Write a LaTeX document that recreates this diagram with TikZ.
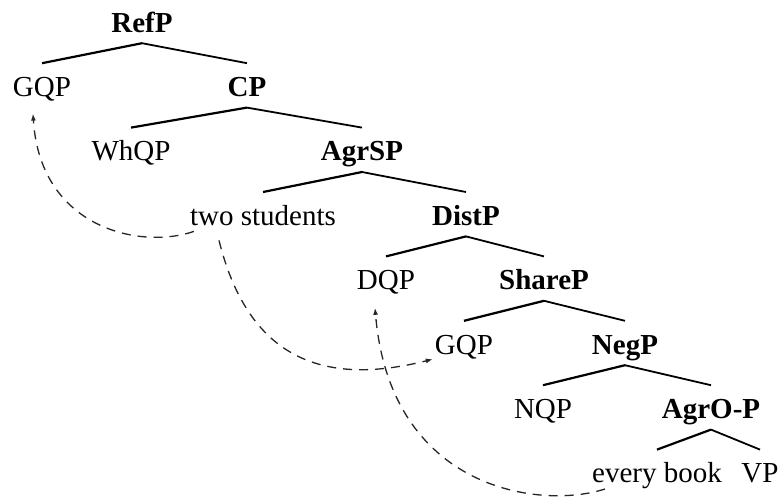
\documentclass[tikz,border=0pt]{standalone}
\usepackage{fontspec}
\setmainfont{Liberation Serif}
\usetikzlibrary{arrows.meta,calc}
\begin{document}
\begin{tikzpicture}[x=1pt,y=-1pt,
  lbl/.style={anchor=base,inner sep=0pt,text height=33pt,text depth=11pt,
    font=\fontsize{29}{34}\selectfont},
  phrase/.style={lbl,font=\fontsize{29}{34}\selectfont\bfseries},
  lbranch/.style={line width=2.2pt},
  rbranch/.style={line width=1.8pt},
  move/.style={dashed,dash pattern=on 9pt off 7pt,line width=1.3pt,black!85,
    -{Latex[length=7pt,width=5pt]}}]
\useasboundingbox (0,0) rectangle (781,501);

% tree labels, one row per level
\node[phrase] (refp)  at (142,32)    {RefP};
\node[lbl]    (gqpa)  at (42,96.4)   {GQP};
\node[phrase] (cp)    at (247,96.4)  {CP};
\node[lbl]    (whqp)  at (131,160.8) {WhQP};
\node[phrase] (agrsp) at (362,160.8) {AgrSP};
\node[lbl]    (ts)    at (263,225.2) {two students};
\node[phrase] (distp) at (466,225.2) {DistP};
\node[lbl]    (dqp)   at (386,289.6) {DQP};
\node[phrase] (sharep) at (544,289.6) {ShareP};
\node[lbl]    (gqpb)  at (464,354)   {GQP};
\node[phrase] (negp)  at (625,354)   {NegP};
\node[lbl]    (nqp)   at (543,418.4) {NQP};
\node[phrase] (agrop) at (711,418.4) {AgrO-P};
\node[lbl]    (eb)    at (657,482.8) {every book};
\node[lbl]    (vp)    at (760,482.8) {VP};

% branches
\foreach \p/\l/\r in {refp/gqpa/cp, cp/whqp/agrsp, agrsp/ts/distp,
                      distp/dqp/sharep, sharep/gqpb/negp, negp/nqp/agrop,
                      agrop/eb/vp}{
  \draw[lbranch] (\p.south) -- (\l.north);
  \draw[rbranch] (\p.south) -- (\r.north);
}

% movement arrows
\draw[move] ($(ts.south west)+(4,-5)$) .. controls (140,250) and (40,228) .. ($(gqpa.south)+(-9,6)$);
\draw[move] ($(ts.south)+(-44,4)$) .. controls (250,365) and (330,385) .. ($(gqpb.south west)+(-2,-6)$);
\draw[move] ($(eb.south west)+(13,-5)$) .. controls (540,510) and (390,490) .. ($(dqp.south)+(-11,7)$);
\end{tikzpicture}
\end{document}
